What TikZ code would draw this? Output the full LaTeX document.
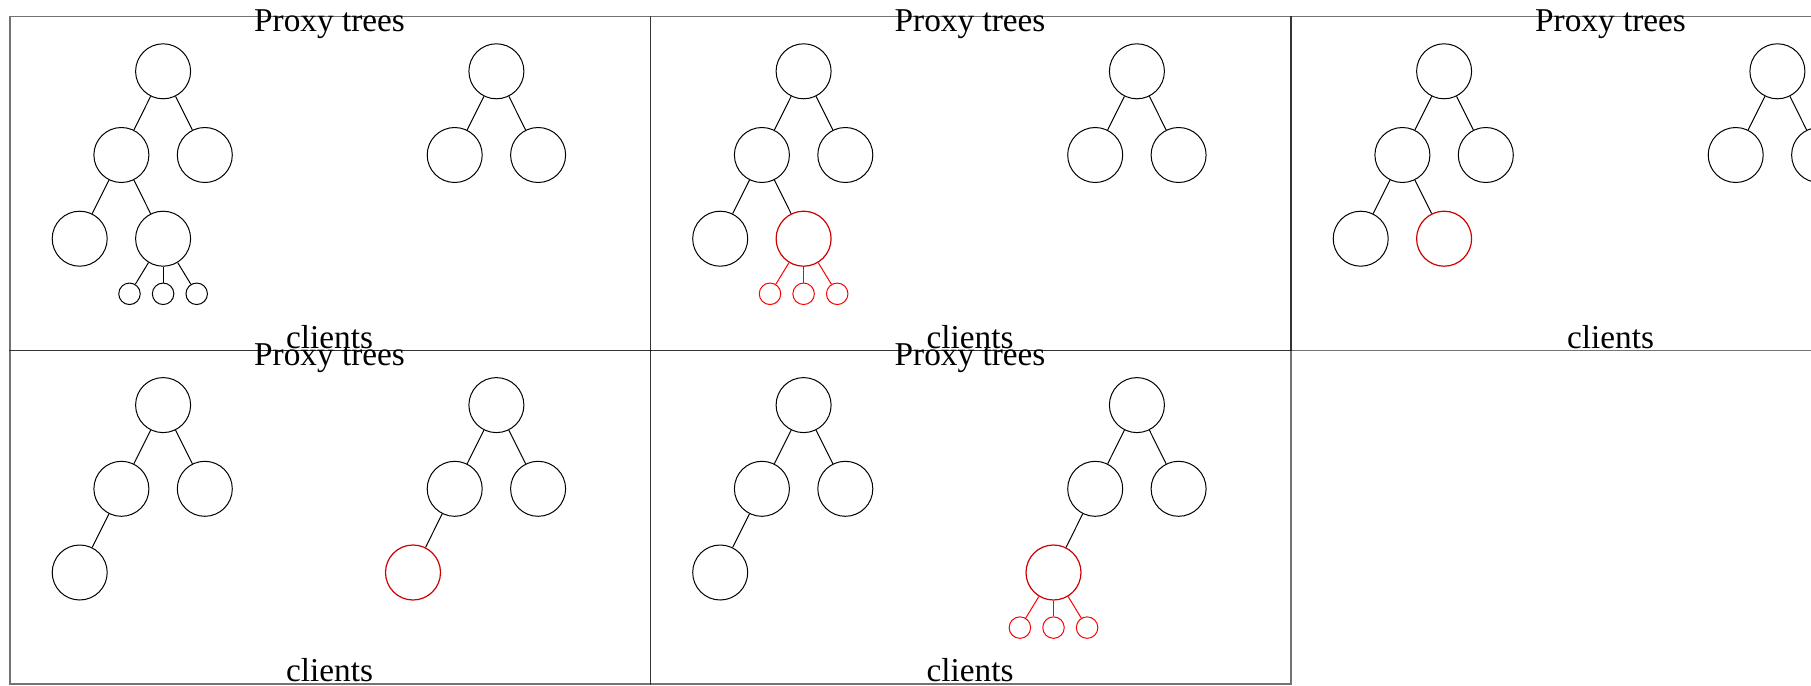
\documentclass[tikz,border=0pt]{standalone}
\usepackage{fontspec}
\setmainfont{Liberation Serif}
\tikzset{
  nd/.style={circle, draw=black, line width=1pt, minimum size=55pt, inner sep=0pt},
  sm/.style={circle, draw=black, line width=1pt, minimum size=21.5pt, inner sep=0pt},
  hot/.style={draw=red!80!black, line width=1.2pt},
  hotsm/.style={draw=red},
  edge/.style={line width=1pt, draw=black},
  hotedge/.style={line width=1pt, draw=red},
  panel/.style={draw=black, draw opacity=0.55, line width=1.3pt},
  lbl/.style={font=\fontsize{33.3}{37}\selectfont, inner sep=0pt, anchor=base}
}
\newcommand\basetrees[1]{%
  \node[nd] (#1rA) at (153.8,55.6) {};
  \node[nd] (#1aL) at (112.1,139.3) {};
  \node[nd] (#1aR) at (195.5,139.3) {};
  \node[nd] (#1aLL) at (70.4,223) {};
  \node[nd] (#1rB) at (487.1,55.6) {};
  \node[nd] (#1bL) at (445.4,139.3) {};
  \node[nd] (#1bR) at (528.8,139.3) {};
  \draw[edge] (#1rA) -- (#1aL);
  \draw[edge] (#1rA) -- (#1aR);
  \draw[edge] (#1aL) -- (#1aLL);
  \draw[edge] (#1rB) -- (#1bL);
  \draw[edge] (#1rB) -- (#1bR);
}
\begin{document}
\begin{tikzpicture}[x=1pt,y=-1pt]
\useasboundingbox (0,0) rectangle (1811,685);
\clip (0,0) rectangle (1811,685);

% ---------- Panel 1 ----------
\begin{scope}[shift={(9.3,15.7)}]
  \node[panel, rectangle, minimum width=640.5pt, minimum height=333.8pt, anchor=north west] (p1box) at (0,0) {};
  \basetrees{p1}
  \node[nd] (p1aLR) at (153.8,223) {};
  \draw[edge] (p1aL) -- (p1aLR);
  \node[sm] (p1s1) at (120.2,278.1) {};
  \node[sm] (p1s2) at (153.8,278.1) {};
  \node[sm] (p1s3) at (187.4,278.1) {};
  \draw[edge] (p1aLR) -- (p1s1);
  \draw[edge] (p1aLR) -- (p1s2);
  \draw[edge] (p1aLR) -- (p1s3);
  \node[lbl] (p1t) at (320.25,16) {Proxy trees};
  \node[lbl] (p1c) at (320.25,333.0) {clients};
\end{scope}

% ---------- Panel 2 ----------
\begin{scope}[shift={(649.8,15.7)}]
  \node[panel, rectangle, minimum width=640.5pt, minimum height=333.8pt, anchor=north west] (p2box) at (0,0) {};
  \basetrees{p2}
  \node[nd, hot] (p2aLR) at (153.8,223) {};
  \draw[edge] (p2aL) -- (p2aLR);
  \node[sm, hotsm] (p2s1) at (120.2,278.1) {};
  \node[sm, hotsm] (p2s2) at (153.8,278.1) {};
  \node[sm, hotsm] (p2s3) at (187.4,278.1) {};
  \draw[hotedge] (p2aLR) -- (p2s1);
  \draw[hotedge] (p2aLR) -- (p2s2);
  \draw[hotedge] (p2aLR) -- (p2s3);
  \node[lbl] (p2t) at (320.25,16) {Proxy trees};
  \node[lbl] (p2c) at (320.25,333.0) {clients};
\end{scope}

% ---------- Panel 3 ----------
\begin{scope}[shift={(1290.3,15.7)}]
  \node[panel, rectangle, minimum width=640.5pt, minimum height=333.8pt, anchor=north west] (p3box) at (0,0) {};
  \basetrees{p3}
  \node[nd, hot] (p3aLR) at (153.8,223) {};
  \draw[edge] (p3aL) -- (p3aLR);
  \node[lbl] (p3t) at (320.25,16) {Proxy trees};
  \node[lbl] (p3c) at (320.25,333.0) {clients};
\end{scope}

% ---------- Panel 4 ----------
\begin{scope}[shift={(9.3,349.5)}]
  \node[panel, rectangle, minimum width=640.5pt, minimum height=333.8pt, anchor=north west] (p4box) at (0,0) {};
  \basetrees{p4}
  \node[nd, hot] (p4bLL) at (403.7,223) {};
  \draw[edge] (p4bL) -- (p4bLL);
  \node[lbl] (p4t) at (320.25,16) {Proxy trees};
  \node[lbl] (p4c) at (320.25,331.6) {clients};
\end{scope}

% ---------- Panel 5 ----------
\begin{scope}[shift={(649.8,349.5)}]
  \node[panel, rectangle, minimum width=640.5pt, minimum height=333.8pt, anchor=north west] (p5box) at (0,0) {};
  \basetrees{p5}
  \node[nd, hot] (p5bLL) at (403.7,223) {};
  \draw[edge] (p5bL) -- (p5bLL);
  \node[sm, hotsm] (p5s1) at (370.1,278.1) {};
  \node[sm, hotsm] (p5s2) at (403.7,278.1) {};
  \node[sm, hotsm] (p5s3) at (437.3,278.1) {};
  \draw[hotedge] (p5bLL) -- (p5s1);
  \draw[hotedge] (p5bLL) -- (p5s2);
  \draw[hotedge] (p5bLL) -- (p5s3);
  \node[lbl] (p5t) at (320.25,16) {Proxy trees};
  \node[lbl] (p5c) at (320.25,331.6) {clients};
\end{scope}
\end{tikzpicture}
\end{document}
